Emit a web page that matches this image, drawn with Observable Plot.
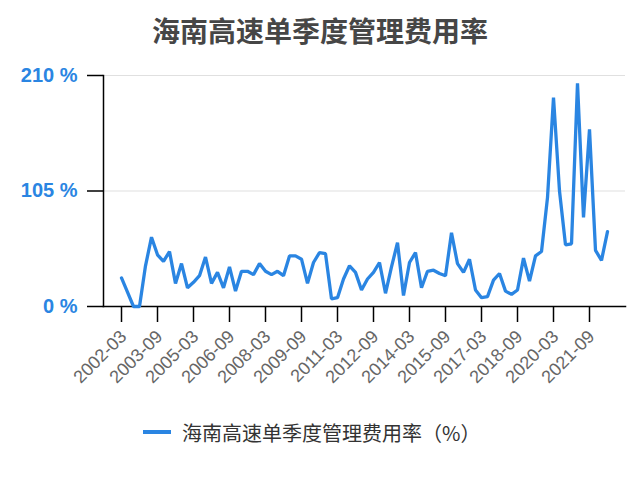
<!DOCTYPE html>
<html>
<head>
<meta charset="utf-8">
<script src="https://cdn.jsdelivr.net/npm/d3@7"></script>
<script src="https://cdn.jsdelivr.net/npm/@observablehq/plot@0.6"></script>
<style>
  html, body { margin: 0; padding: 0; background: #fff; }
  #wrap { width: 640px; height: 477px; position: relative; overflow: hidden; }
  #title { height: 50px; line-height: 60px; text-align: center; font-family: "Noto Sans CJK SC", sans-serif; font-weight: bold; font-size: 28px; color: #464646; }
  #legend { height: 44px; display: flex; align-items: center; padding-left: 143px; font-family: "Noto Sans CJK SC", sans-serif; font-size: 20px; color: #333; }
  #legend .sw { width: 28px; height: 4px; background: #2a85e2; margin-right: 11px; }
</style>
</head>
<body>
<div id="wrap">
  <div id="title">海南高速单季度管理费用率</div>
  <div id="chart"></div>
  <div id="legend"><span class="sw"></span><span>海南高速单季度管理费用率（%）</span></div>
</div>
<script>
const seriesName = "海南高速单季度管理费用率（%）";
const quarters = [
  "2002-03","2002-06","2002-09","2002-12","2003-03","2003-06","2003-09","2003-12",
  "2004-03","2004-06","2004-09","2004-12","2005-03","2005-06","2005-09","2005-12",
  "2006-03","2006-06","2006-09","2006-12","2007-03","2007-06","2007-09","2007-12",
  "2008-03","2008-06","2008-09","2008-12","2009-03","2009-06","2009-09","2009-12",
  "2010-03","2010-06","2010-09","2010-12","2011-03","2011-06","2011-09","2011-12",
  "2012-03","2012-06","2012-09","2012-12","2013-03","2013-06","2013-09","2013-12",
  "2014-03","2014-06","2014-09","2014-12","2015-03","2015-06","2015-09","2015-12",
  "2016-03","2016-06","2016-09","2016-12","2017-03","2017-06","2017-09","2017-12",
  "2018-03","2018-06","2018-09","2018-12","2019-03","2019-06","2019-09","2019-12",
  "2020-03","2020-06","2020-09","2020-12","2021-03","2021-06","2021-09","2021-12",
  "2022-03","2022-06"
];
const rates = [
  26, 13, 0, 0, 37, 63, 47, 41, 50, 21,
  39, 17, 22, 28, 45, 21, 31, 17, 36, 14,
  32, 32, 29, 39, 32, 29, 32, 28, 46, 46,
  43, 21, 40, 49, 48, 7, 8, 25, 37, 31,
  15, 25, 31, 40, 12, 36, 58, 10, 40, 49,
  17, 32, 33, 30, 28, 67, 39, 31, 43, 15,
  8, 9, 24, 30, 14, 11, 15, 44, 23, 46,
  50, 99, 190, 105, 56, 57, 203, 81, 161, 51,
  42, 68
];
const xTickLabels = ["2002-03","2003-09","2005-03","2006-09","2008-03","2009-09","2011-03","2012-09","2014-03","2015-09","2017-03","2018-09","2020-03","2021-09"];
const yTickValues = [0, 105, 210];

const data = quarters.map((q, i) => ({q, v: rates[i]}));
const blue = "#2a85e2";

const chart = Plot.plot({
  width: 640,
  height: 360,
  marginTop: 25,
  marginBottom: 104,
  marginLeft: 103,
  marginRight: 15,
  style: {fontFamily: "'Liberation Sans', Arial, sans-serif", background: "#fff"},
  x: {type: "point", domain: quarters, padding: 0.5},
  y: {domain: [0, 210]},
  marks: [
    Plot.gridY([105, 210], {stroke: "#e0e0e0", strokeOpacity: 1, strokeWidth: 1.2}),
    Plot.axisY({ticks: yTickValues, tickSize: 16, tickPadding: 10, tickFormat: d => `${d} %`, color: blue, stroke: "black", strokeWidth: 1.5, fontSize: 20, fontWeight: "bold", label: null}),
    Plot.axisX({ticks: xTickLabels, tickSize: 16, tickFormat: () => "", stroke: "black", strokeWidth: 1.5, label: null}),
    Plot.text(xTickLabels, {x: d => d, frameAnchor: "bottom", dx: 2, dy: 27, rotate: -45, textAnchor: "end", lineAnchor: "middle", fontSize: 18, fill: "#666"}),
    Plot.frame({anchor: "left", stroke: "black", strokeWidth: 1.5}),
    Plot.frame({anchor: "bottom", stroke: "black", strokeWidth: 1.5}),
    Plot.line(data, {x: "q", y: "v", stroke: blue, strokeWidth: 3.3, strokeLinejoin: "miter"})
  ]
});
document.getElementById("chart").appendChild(chart);
</script>
</body>
</html>
